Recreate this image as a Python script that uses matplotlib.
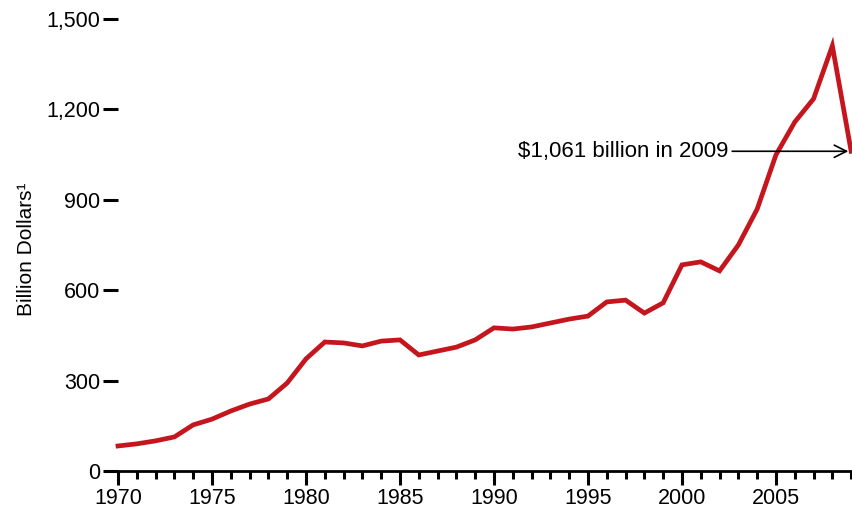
import matplotlib
matplotlib.use("Agg")
import matplotlib.pyplot as plt
from matplotlib.ticker import MultipleLocator, FuncFormatter

plt.rcParams['font.family'] = ['Liberation Sans', 'DejaVu Sans']

years = list(range(1970, 2010))
values = [83, 90, 100, 113, 153, 172, 199, 222, 239, 292,
          372, 428, 425, 415, 431, 435, 385, 398, 411, 435,
          475, 471, 478, 491, 504, 514, 561, 567, 524, 558,
          684, 694, 664, 750, 869, 1049, 1158, 1235, 1411, 1061]
y_ticks = [0, 300, 600, 900, 1200, 1500]
x_major = [1970, 1975, 1980, 1985, 1990, 1995, 2000, 2005]
annotation = "$1,061 billion in 2009"
ylabel = "Billion Dollars\u00b9"

FS = 15.5
fig = plt.figure(figsize=(8.52, 5.09), dpi=100)
ax = fig.add_axes([0.1385, 0.0747, 0.8605, 0.888])
ax.plot(years, values, color='#C4161C', lw=3.4, solid_joinstyle='miter', clip_on=False)
ax.set_xlim(1970, 2009)
ax.set_ylim(0, 1500)
for s in ['top', 'right', 'left']:
    ax.spines[s].set_visible(False)
ax.spines['bottom'].set_linewidth(2)
ax.set_yticks(y_ticks)
ax.yaxis.set_major_formatter(FuncFormatter(lambda v, p: f"{int(v):,}"))
ax.set_xticks(x_major)
ax.xaxis.set_minor_locator(MultipleLocator(1))
ax.tick_params(axis='y', length=11, width=2.2, labelsize=FS, pad=2)
ax.tick_params(axis='x', which='major', length=10, width=2.2, labelsize=FS, pad=2.5)
ax.tick_params(axis='x', which='minor', length=6, width=2.2)
ax.set_ylabel(ylabel, fontsize=15)
ax.yaxis.set_label_coords(-0.112, 0.49)
ax.annotate(annotation, xy=(2008.85, values[-1]), xytext=(2002.45, values[-1]),
            fontsize=16, ha='right', va='center',
            arrowprops=dict(arrowstyle='->', color='black', lw=1.2,
                            mutation_scale=22, shrinkA=1, shrinkB=0))
fig.savefig('out.png', dpi=100)
